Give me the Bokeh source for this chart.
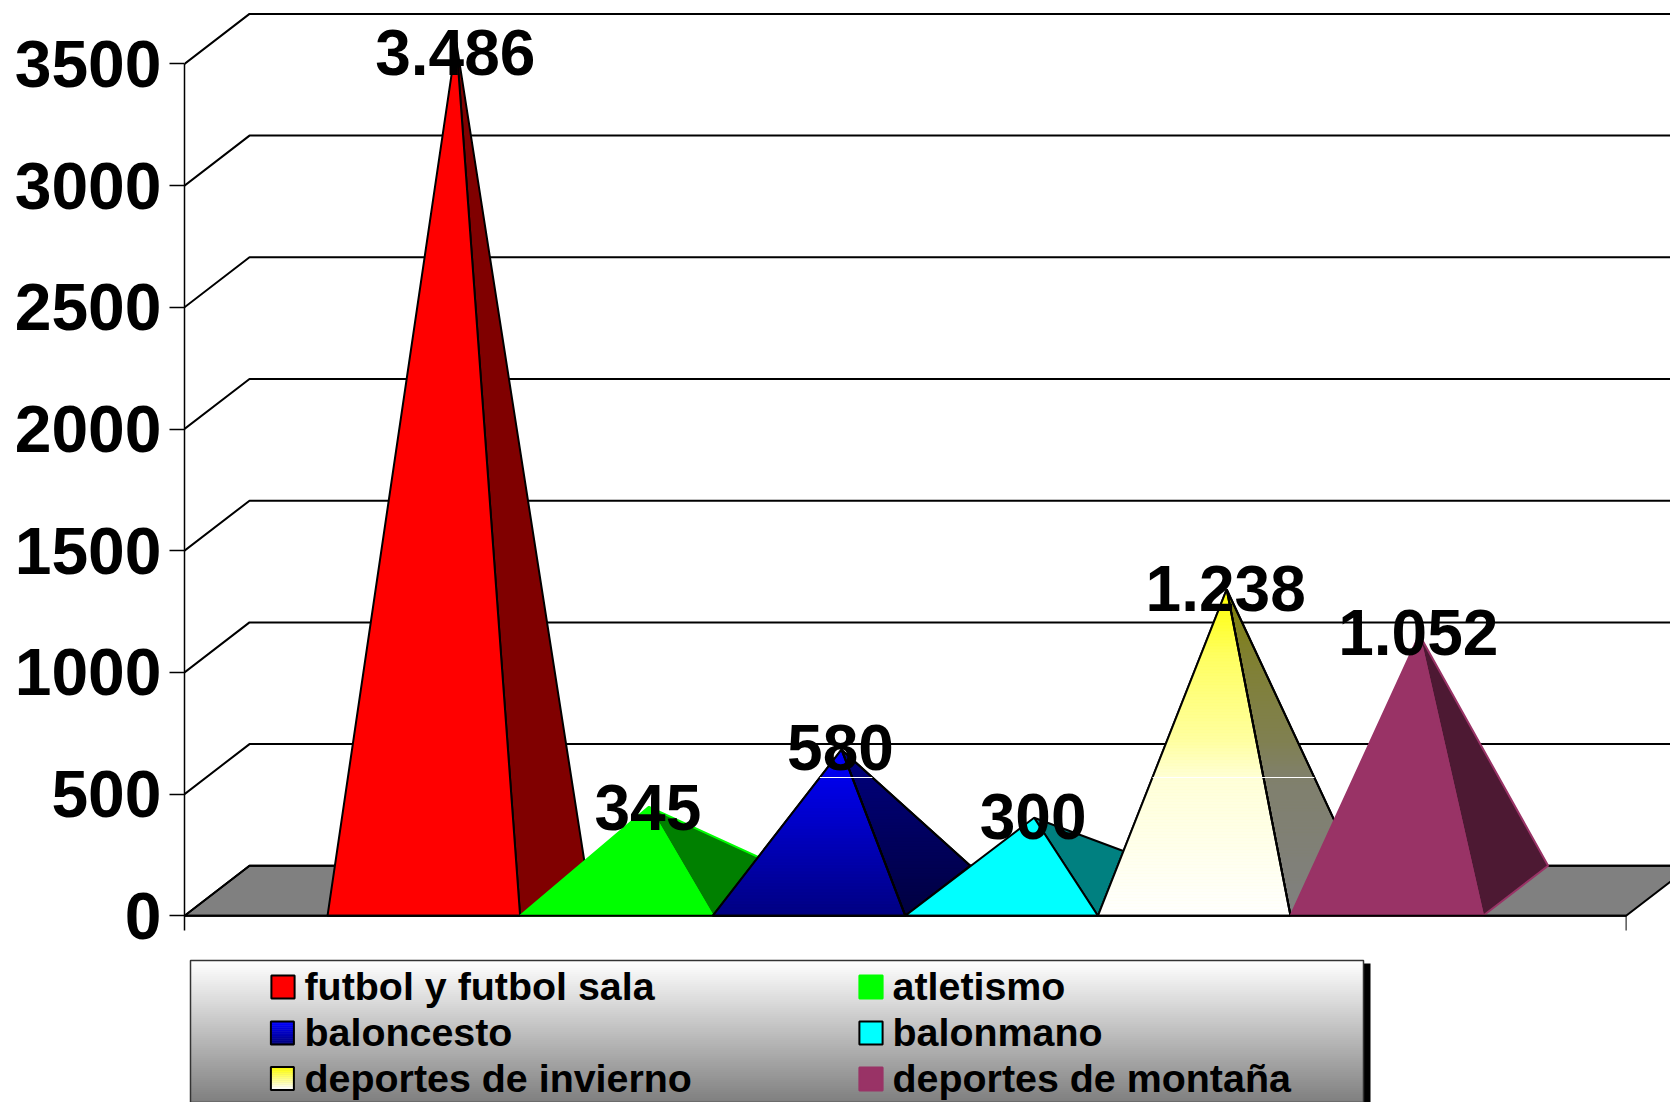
from bokeh.plotting import figure
from bokeh.models import ColumnDataSource, FixedTicker, Legend, LegendItem
from bokeh.core.properties import value
from bokeh.embed import file_html
from bokeh.resources import INLINE

# ---- data ----
categories = ["futbol y futbol sala", "atletismo", "baloncesto", "balonmano",
              "deportes de invierno", "deportes de montaña"]
values = [3486, 345, 580, 300, 1238, 1052]
value_labels = ["3.486", "345", "580", "300", "1.238", "1.052"]
y_ticks = [0, 500, 1000, 1500, 2000, 2500, 3000, 3500]

# ---- styles ----
front_bottom = ["#ff0000", "#00ff00", "#000080", "#00ffff", "#ffffff", "#993366"]
front_top    = ["#ff0000", "#00ff00", "#0000ff", "#00ffff", "#ffff00", "#993366"]
side_bottom  = ["#800000", "#008000", "#000040", "#008080", "#808080", "#4d1933"]
side_top     = ["#800000", "#008000", "#000080", "#008080", "#808000", "#4d1933"]
outline      = ["#000000", "#00ff00", "#000000", "#000000", "#000000", "#993366"]
label_drop   = [10, 1, -2, -1, -1, -2]
FONT = "Liberation Sans"
LW = 2

# ---- geometry of the scales (page pixels) ----
PX_LEFT, PX_RIGHT, PX_TOP, PX_BOTTOM = 184.0, 1670.0, 0.0, 1102.0
PX_ZERO = 915.3
PX_PER_VALUE = 121.7 / 500
PX_PER_CAT = 192.6
GAP = 143.0 / PX_PER_CAT
x_start = -0.5 - GAP
x_end = x_start + (PX_RIGHT - PX_LEFT) / PX_PER_CAT
y_start = -(PX_BOTTOM - PX_ZERO) / PX_PER_VALUE
y_end = (PX_ZERO - PX_TOP) / PX_PER_VALUE
DX = 65.0 / PX_PER_CAT
DY = 50.0 / PX_PER_VALUE
x_last = len(categories) - 0.5 + GAP


def dx(px):
    return x_start + (px - PX_LEFT) / PX_PER_CAT


def dy(px):
    return (PX_ZERO - px) / PX_PER_VALUE


def hexrgb(c):
    return tuple(int(c[i:i + 2], 16) for i in (1, 3, 5))


def mix(a, b, t):
    ra, rb = hexrgb(a), hexrgb(b)
    return "#%02x%02x%02x" % tuple(round(p + (q - p) * t) for p, q in zip(ra, rb))


def clip_band(poly, lo, hi):
    def clip(points, keep, cross):
        out = []
        for k in range(len(points)):
            p, q = points[k], points[(k + 1) % len(points)]
            if keep(p):
                out.append(p)
            if keep(p) != keep(q):
                t = (cross - p[1]) / (q[1] - p[1])
                out.append((p[0] + (q[0] - p[0]) * t, cross))
        return out
    pts = clip(poly, lambda a: a[1] >= lo, lo)
    if pts:
        pts = clip(pts, lambda a: a[1] <= hi, hi)
    return pts


CREAM_T = [0.0, 0.42, 0.54, 0.8, 1.0]
CREAM_K = [0.0, 0.15, 0.37, 0.62, 1.0]


def cream_ease(t):
    for k in range(len(CREAM_T) - 1):
        if t <= CREAM_T[k + 1]:
            f = (t - CREAM_T[k]) / (CREAM_T[k + 1] - CREAM_T[k])
            return CREAM_K[k] + (CREAM_K[k + 1] - CREAM_K[k]) * f
    return 1.0


def strips(poly, bottom, top, height, ease=None):
    lo = min(p[1] for p in poly)
    hi = max(p[1] for p in poly)
    xs, ys, cols = [], [], []
    step = 3.0 / PX_PER_VALUE
    y = 0.0
    while y < height:
        band = clip_band(poly, y, y + step)
        if len(band) >= 3 and y + step > lo and y < hi:
            t = min(1.0, (y + step / 2) / height)
            cols.append(mix(bottom, top, ease(t) if ease else t))
            xs.append([p[0] for p in band])
            ys.append([p[1] for p in band])
        y += step
    return dict(xs=xs, ys=ys, c=cols)


p = figure(width=1670, height=1102, output_backend="svg", toolbar_location=None,
           x_range=(x_start, x_end), y_range=(y_start, y_end),
           x_axis_location=None, y_axis_location="left",
           min_border_left=184, min_border_right=0, min_border_top=0, min_border_bottom=0,
           outline_line_color=None, background_fill_color="white", border_fill_color="white")
p.grid.visible = False

ax = p.yaxis[0]
ax.ticker = FixedTicker(ticks=y_ticks)
ax.bounds = (dy(930), y_ticks[-1])
ax.major_label_text_font = FONT
ax.major_label_text_font_style = "bold"
ax.major_label_text_font_size = "66px"
ax.major_label_text_color = "black"
ax.major_label_standoff = 8
ax.major_tick_out = 15
ax.major_tick_in = 0
ax.minor_tick_line_color = None
ax.axis_line_color = "black"
ax.axis_line_width = 1.5
ax.major_tick_line_color = "black"
ax.major_tick_line_width = 1.5

# floor
p.patch([x_start, x_start + DX, x_last + DX, x_last], [0, DY, DY, 0],
        fill_color="#808080", line_color="black", line_width=LW)

# wall grid
grid_xs, grid_ys = [], []
for t in y_ticks:
    grid_xs.append([x_start, x_start + DX, x_end + 1])
    grid_ys.append([t, t + DY, t + DY])
p.multi_line(grid_xs, grid_ys, line_color="black", line_width=LW)

# right foot tick
p.segment([x_last], [0], [x_last], [dy(930)], line_color="black", line_width=1)

# pyramids
front_renderers = []
apex_x, apex_y = [], []
SEAM = dy(777)
for i, v in enumerate(values):
    fl, fr = (i - 0.5, 0.0), (i + 0.5, 0.0)
    br = (i + 0.5 + DX, DY)
    ap = (i + DX / 2, v + DY / 2)
    apex_x.append(ap[0])
    apex_y.append(ap[1])
    side = [fr, br, ap]
    front = [fl, fr, ap]
    ease = cream_ease if i == 4 else None
    p.patch([q[0] for q in side], [q[1] for q in side], fill_color=side_bottom[i],
            line_color=None)
    if side_bottom[i] != side_top[i]:
        p.patches("xs", "ys", source=ColumnDataSource(strips(side, side_bottom[i], side_top[i], ap[1], ease)),
                  fill_color="c", line_color="c", line_width=1)
    p.patch([q[0] for q in side], [q[1] for q in side], fill_color=None,
            line_color=outline[i], line_width=LW)
    r = p.patch([q[0] for q in front], [q[1] for q in front], fill_color=front_top[i] if i in (2, 4) else front_bottom[i],
                line_color=outline[i], line_width=LW)
    front_renderers.append(r)
    if front_bottom[i] != front_top[i]:
        p.patches("xs", "ys", source=ColumnDataSource(strips(front, front_bottom[i], front_top[i], ap[1], ease)),
                  fill_color="c", line_color="c", line_width=1)
        # outlines on top; this front renderer draws only the stroke, so its legend key is see-through
        front_renderers[-1] = p.patch([q[0] for q in front], [q[1] for q in front], fill_alpha=0,
                                      line_color=outline[i], line_width=LW, line_alpha=0)
        p.patch([q[0] for q in front], [q[1] for q in front], fill_color=None,
                line_color=outline[i], line_width=LW)
        p.patch([q[0] for q in side], [q[1] for q in side], fill_color=None,
                line_color=outline[i], line_width=LW)
        f = SEAM / ap[1]
        g = (SEAM - DY) / (ap[1] - DY)
        p.segment([fl[0] + (ap[0] - fl[0]) * f], [SEAM],
                  [br[0] + (ap[0] - br[0]) * g], [SEAM], line_color="white", line_width=1)

# base line over the pyramids
p.line([x_start, x_last], [0, 0], line_color="black", line_width=LW)

# value labels
p.text(x="x", y="y", text="t", y_offset="d", x_offset=-1,
       source=ColumnDataSource(dict(x=apex_x, y=apex_y, t=value_labels, d=label_drop)),
       text_font=value(FONT), text_font_style="bold", text_font_size="64px",
       text_align="center", text_baseline="alphabetic", text_color="black")

# legend panel
PANEL_L, PANEL_R, PANEL_T, PANEL_B = 190.0, 1363.0, 960.0, 1102.0
p.quad(left=[dx(PANEL_R)], right=[dx(1370)], top=[dy(963)], bottom=[dy(1102)],
       fill_color="black", line_color="black", line_width=0)
n = 71
hh = (PANEL_B - PANEL_T) / n
panel_cols = [mix("#ffffff", "#808080", k / (n - 1)) for k in range(n)]
p.quad(left=[dx(PANEL_L)] * n, right=[dx(PANEL_R)] * n,
       top=[dy(PANEL_T + k * hh) for k in range(n)],
       bottom=[dy(PANEL_T + (k + 1) * hh) for k in range(n)],
       fill_color=panel_cols, line_color=panel_cols, line_width=1)
p.quad(left=[dx(PANEL_L)], right=[dx(PANEL_R)], top=[dy(PANEL_T)], bottom=[dy(PANEL_B)],
       fill_color=None, line_color="#333333", line_width=1.5)

GLYPH = 29
INSET = 0.1 * GLYPH
legend = Legend(items=[LegendItem(label=c, renderers=[r]) for c, r in zip(categories, front_renderers)],
                location=(270.4 - INSET - PX_LEFT, 1.5), orientation="horizontal", ncols=2,
                glyph_width=GLYPH, glyph_height=GLYPH, label_standoff=8, label_width=550, spacing=1,
                padding=0, margin=0, background_fill_alpha=0, border_line_color=None,
                label_text_font=FONT, label_text_font_style="bold", label_text_font_size="39.4px",
                label_text_color="black", click_policy="none")
p.add_layout(legend)

# gradient keys under the see-through legend keys
SW_L, SW_R, SW_H = 270.4, 293.4, 11.5
for centre, idx in ((1032.6, 2), (1078.0, 4)):
    m = 12
    step = 2 * SW_H / m
    cols = [mix(front_top[idx], front_bottom[idx], k / (m - 1)) for k in range(m)]
    p.quad(left=[dx(SW_L)] * m, right=[dx(SW_R)] * m,
           top=[dy(centre - SW_H + k * step) for k in range(m)],
           bottom=[dy(centre - SW_H + (k + 1) * step) for k in range(m)],
           fill_color=cols, line_color=cols, line_width=0.5)
    p.quad(left=[dx(SW_L)], right=[dx(SW_R)], top=[dy(centre - SW_H)], bottom=[dy(centre + SW_H)],
           fill_color=None, line_color="black", line_width=2)

open("out.html", "w").write(file_html(p, INLINE))
